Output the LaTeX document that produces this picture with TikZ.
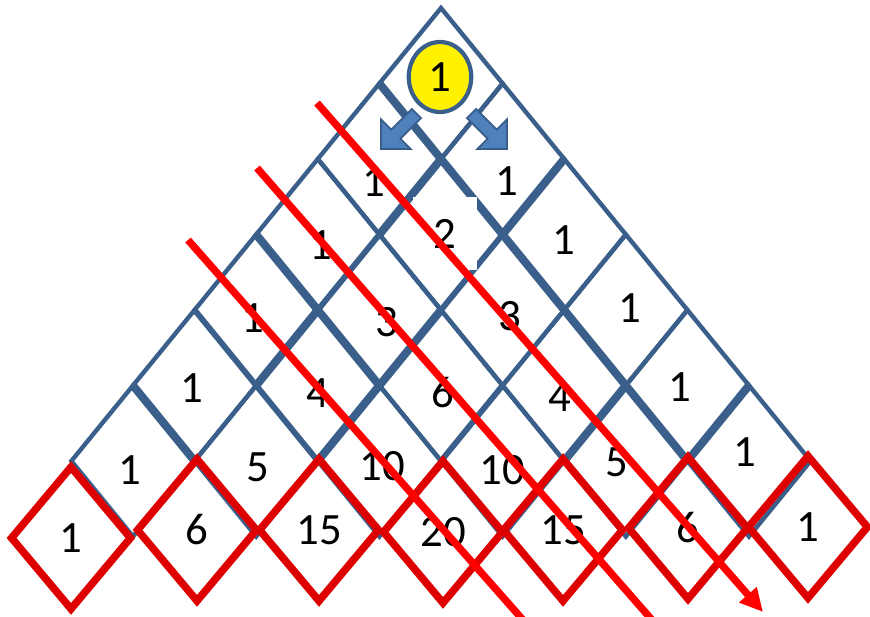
\documentclass[tikz,border=0pt]{standalone}
\usepackage{fontspec}
\setmainfont{Carlito}
\usetikzlibrary{arrows.meta,shapes.geometric}

\definecolor{gridblue}{RGB}{58,95,139}
\definecolor{arrowblue}{RGB}{79,129,189}
\definecolor{arrowedge}{RGB}{56,93,138}
\definecolor{rowred}{RGB}{222,0,0}
\definecolor{diagred}{RGB}{255,0,0}

\begin{document}
\begin{tikzpicture}[
  x=0.02cm, y=-0.02cm,
  cell/.style={
    draw=gridblue,
    line width=2.5pt,
    line join=miter
  },
  heavy edge/.style={
    draw=gridblue,
    line width=4.6pt
  },
  mid edge/.style={
    draw=gridblue,
    line width=3.3pt
  },
  entry/.style={
    font=\fontsize{25.5}{30}\selectfont,
    inner sep=0pt
  },
  last row/.style={
    diamond,
    draw=rowred,
    line width=4.3pt,
    minimum width=2.44cm,
    minimum height=2.9cm,
    inner sep=0pt,
    font=\fontsize{25.5}{30}\selectfont
  },
  diagonal/.style={
    draw=diagred,
    line width=4.2pt
  },
  push arrow/.style={
    fill=arrowblue,
    draw=arrowedge,
    line width=1pt,
    line join=miter
  }
]
\def\apexx{441}
\def\apexy{8}
\def\cellw{61.6}
\def\cellh{75.5}

\useasboundingbox (0,0) rectangle (870,617);
\clip (0,0) rectangle (870,617);

\foreach \k in {0,...,5} {
  \foreach \j in {0,...,\k} {
    \pgfmathsetmacro{\cx}{\apexx + (2*\j - \k)*\cellw}
    \pgfmathsetmacro{\cy}{\apexy + (\k + 1)*\cellh}
    \draw[cell] (\cx,\cy-\cellh) -- (\cx+\cellw,\cy) -- (\cx,\cy+\cellh) -- (\cx-\cellw,\cy) -- cycle;
  }
}

\foreach \ra/\ma/\rb/\mb in {1/-1/6/4, 3/-3/5/-1, 5/-5/6/-4, 2/0/3/-1, 4/-2/5/-3, 2/2/3/1, 5/5/6/4, 5/3/6/2, 4/0/6/-2} {
  \draw[heavy edge] ({\apexx+(\ma)*\cellw},{\apexy+\ra*\cellh}) -- ({\apexx+(\mb)*\cellw},{\apexy+\rb*\cellh});
}

\foreach \ra/\ma/\rb/\mb in {4/-4/6/-2, 3/1/4/0, 3/-1/4/-2, 5/1/6/0} {
  \draw[mid edge] ({\apexx+(\ma)*\cellw},{\apexy+\ra*\cellh}) -- ({\apexx+(\mb)*\cellw},{\apexy+\rb*\cellh});
}

\draw[push arrow] (381,149) -- (410.7,149) -- (400.45,138.75) -- (421,118.2) -- (411.8,109) -- (391.25,129.55) -- (381,119.3) -- cycle;
\draw[push arrow] (507,149) -- (477.3,149) -- (487.55,138.75) -- (467,118.2) -- (476.2,109) -- (496.75,129.55) -- (507,119.3) -- cycle;

\node[entry, fill=white, minimum width=1.3cm, minimum height=1.46cm] (N2-2) at (445,234) {2};

\foreach \k/\i/\x/\y/\t in {1/1/374/182/1, 1/2/507/181/1,
  2/1/321/245/1, 2/3/564/240/1,
  3/1/253/318/1, 3/2/387/322/3, 3/3/510/316/3, 3/4/630/308/1,
  4/1/192/388/1, 4/2/318/393/4, 4/3/443/393/6, 4/4/560/397/4, 4/5/680/387/1,
  5/1/130/470/1, 5/2/258/467/5, 5/3/382/466/10, 5/4/502/470/10, 5/5/617/462/5, 5/6/745/452/1} {
  \node[entry] (N\k-\i) at (\x,\y) {\t};
}

\node[entry, ellipse, draw=gridblue, line width=2.4pt, fill=yellow, minimum width=1.25cm, minimum height=1.4cm] (N0-1) at (440,77) {1};

\foreach \j/\x/\y/\t in {0/71/538/1, 1/197/530/6, 2/319/530/15, 3/443/532/20, 4/563/530/15, 5/688/528/6, 6/808/527/1} {
  \node[last row] (R-\j) at (\x,\y) {\t};
}

\coordinate (d1-a) at (317,103);
\coordinate (d1-b) at (763,612);
\coordinate (d2-a) at (257,168);
\coordinate (d2-b) at (652,620);
\coordinate (d3-a) at (188,240);
\coordinate (d3-b) at (523,620);

\draw[diagonal, -{Triangle[length=4.6mm, width=4.4mm]}] (d1-a) -- (d1-b);
\draw[diagonal] (d2-a) -- (d2-b);
\draw[diagonal] (d3-a) -- (d3-b);
\end{tikzpicture}
\end{document}
